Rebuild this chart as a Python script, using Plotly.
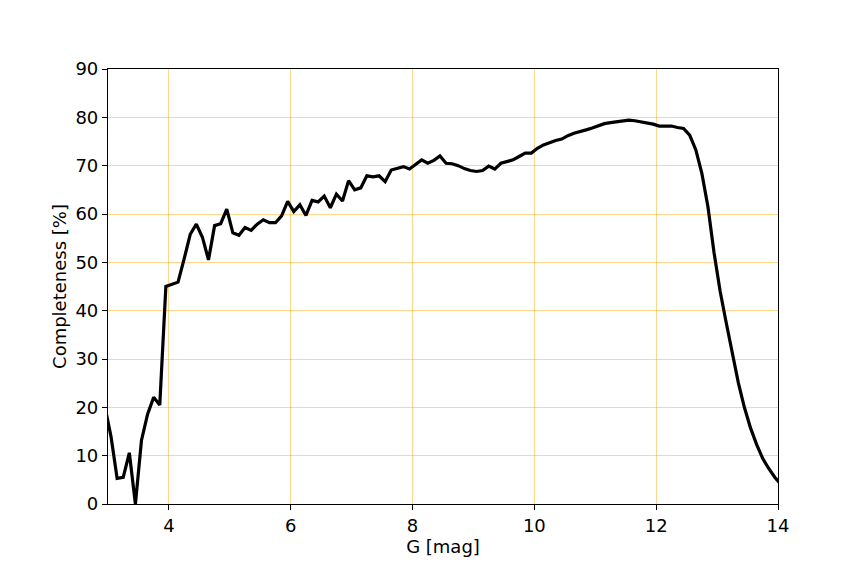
import plotly.graph_objects as go

# bin centres [mag], every 0.1 from 2.95 to 14.05 (ends clipped by axis range)
g_mag = [round(2.95 + 0.1 * i, 2) for i in range(112)]

completeness = [
    20.1, 13.9, 5.3, 5.5, 10.6, 0.0, 13.2, 18.6, 22.1, 20.5,      # 2.95 - 3.85
    45.0, 45.4, 45.9, 50.7, 55.8, 57.9, 55.2, 50.5, 57.6, 58.0,   # 3.95 - 4.85
    61.0, 56.1, 55.6, 57.2, 56.6, 57.9, 58.8, 58.2, 58.2, 59.6,   # 4.95 - 5.85
    62.6, 60.5, 61.9, 59.7, 62.8, 62.5, 63.7, 61.3, 64.1, 62.7,   # 5.95 - 6.85
    66.9, 65.0, 65.4, 67.9, 67.7, 67.9, 66.7, 69.1, 69.5, 69.8,   # 6.95 - 7.85
    69.3, 70.3, 71.2, 70.5, 71.1, 72.0, 70.5, 70.4, 70.0, 69.4,   # 7.95 - 8.85
    69.0, 68.8, 69.0, 69.9, 69.3, 70.5, 70.8, 71.2, 71.9, 72.6,   # 8.95 - 9.85
    72.6, 73.6, 74.3, 74.8, 75.2, 75.5, 76.2, 76.7, 77.0, 77.4,   # 9.95 - 10.85
    77.8, 78.2, 78.7, 78.9, 79.1, 79.3, 79.4, 79.3, 79.1, 78.9,   # 10.95 - 11.85
    78.6, 78.2, 78.2, 78.2, 77.9, 77.7, 76.3, 73.3, 68.4, 61.5,   # 11.95 - 12.85
    52.0, 44.0, 37.5, 31.3, 25.0, 19.9, 15.7, 12.3, 9.4, 7.3,     # 12.95 - 13.85
    5.5, 4.0,                                                      # 13.95 - 14.05
]

x_ticks = [4, 6, 8, 10, 12, 14]
y_ticks = [0, 10, 20, 30, 40, 50, 60, 70, 80, 90]

fig = go.Figure()
fig.add_trace(go.Scatter(
    x=g_mag, y=completeness,
    mode="lines",
    line={"color": "black", "width": 3.2},
    showlegend=False,
))

axis_style = dict(
    showline=True, linecolor="black", linewidth=1.2, mirror=True,
    ticks="outside", ticklen=5, tickwidth=1.2, tickcolor="black",
    showgrid=True, gridcolor="rgba(255,165,0,0.45)", gridwidth=1,
    zeroline=False,
    tickfont={"size": 18, "color": "black"},
    title_font={"size": 18, "color": "black"},
)

fig.update_xaxes(range=[3, 14], tickvals=x_ticks, title_text="G [mag]",
                 title_standoff=2, **axis_style)
fig.update_yaxes(range=[0, 90], tickvals=y_ticks, title_text="Completeness [%]",
                 title_standoff=4, **axis_style)

# page body adds an 8px offset, so margins are shifted to compensate
fig.update_layout(
    width=864, height=576,
    margin={"l": 100, "r": 94, "t": 61, "b": 80},
    plot_bgcolor="white", paper_bgcolor="white",
    font={"family": "DejaVu Sans", "color": "black"},
)

fig.write_html("out.html")
